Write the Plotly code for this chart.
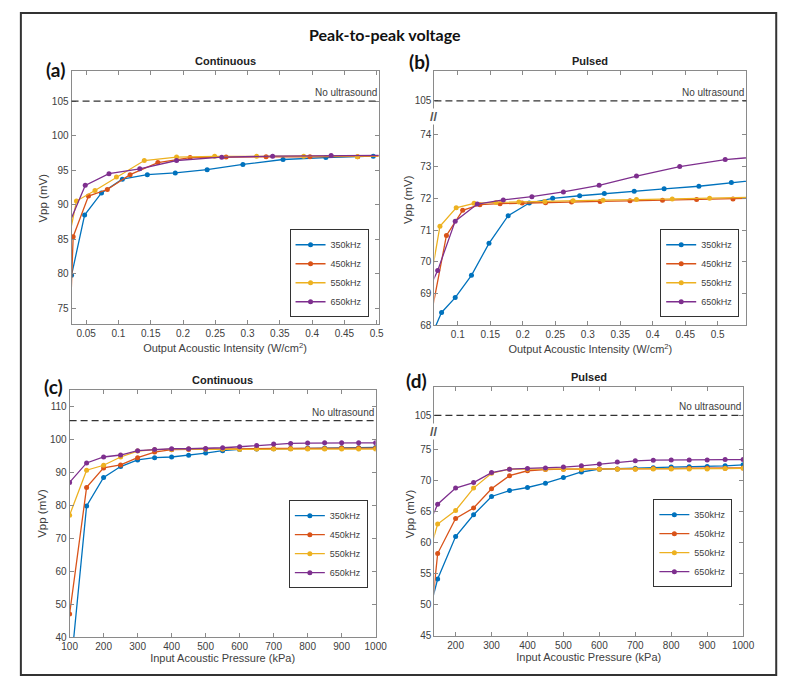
import plotly.graph_objects as go

# ---------------- data ----------------
series_names = ["350kHz", "450kHz", "550kHz", "650kHz"]
colors = ["#0072BD", "#D95319", "#EDB120", "#7E2F8E"]

# (a) Continuous - output acoustic intensity (W/cm^2)
a_x_350 = [0.0273, 0.0475, 0.0737, 0.106, 0.1447, 0.188, 0.2374, 0.2928, 0.355, 0.4213, 0.4948]
a_y_350 = [79.8, 88.5, 91.7, 93.7, 94.35, 94.6, 95.07, 95.83, 96.55, 96.83, 97.03]
a_x_450 = [0.024, 0.0298, 0.0535, 0.0827, 0.118, 0.161, 0.211, 0.2667, 0.3287, 0.3967, 0.4707, 0.553]
a_y_450 = [70.0, 85.37, 91.25, 92.2, 94.35, 96.1, 96.83, 96.9, 96.93, 96.93, 96.93, 97.1]
a_x_550 = [0.022, 0.0349, 0.0636, 0.0968, 0.14, 0.19, 0.249, 0.314, 0.387, 0.47, 0.553]
a_y_550 = [84.6, 90.53, 92.06, 94.0, 96.4, 96.9, 97.0, 97.0, 97.0, 96.95, 97.1]
a_x_650 = [0.02, 0.0485, 0.0853, 0.133, 0.19, 0.26, 0.3388, 0.4295, 0.52]
a_y_650 = [86.5, 92.8, 94.5, 95.2, 96.4, 96.88, 97.03, 97.12, 97.15]

# (b) Pulsed - output acoustic intensity (W/cm^2)
b_x_350 = [0.058, 0.075, 0.096, 0.121, 0.148, 0.1775, 0.21, 0.246, 0.2875, 0.3255, 0.3715, 0.4175, 0.471, 0.521, 0.58]
b_y_350 = [67.6, 68.4, 68.87, 69.57, 70.58, 71.45, 71.85, 72.0, 72.08, 72.15, 72.22, 72.3, 72.38, 72.5, 72.62]
b_x_450 = [0.058, 0.0825, 0.1075, 0.134, 0.165, 0.199, 0.235, 0.275, 0.319, 0.365, 0.415, 0.4675, 0.5235, 0.58]
b_y_450 = [68.2, 70.83, 71.62, 71.8, 71.83, 71.85, 71.86, 71.88, 71.9, 71.92, 71.94, 71.96, 71.98, 72.01]
b_x_550 = [0.058, 0.0725, 0.0975, 0.125, 0.159, 0.194, 0.234, 0.2775, 0.3235, 0.375, 0.43, 0.4875, 0.58]
b_y_550 = [69.4, 71.12, 71.7, 71.84, 71.87, 71.88, 71.9, 71.92, 71.94, 71.96, 71.98, 72.0, 72.04]
b_x_650 = [0.058, 0.069, 0.096, 0.13, 0.17, 0.214, 0.2625, 0.3175, 0.375, 0.4415, 0.5115, 0.58]
b_y_650 = [69.24, 69.72, 71.28, 71.82, 71.95, 72.05, 72.2, 72.41, 72.7, 73.0, 73.22, 73.34]

# (c) Continuous - input acoustic pressure (kPa)
c_x = [100, 150, 200, 250, 300, 350, 400, 450, 500, 550, 600, 650, 700, 750, 800, 850, 900, 950, 1000]
c_y_350 = [27, 79.8, 88.4, 91.7, 93.7, 94.4, 94.6, 95.1, 95.8, 96.5, 96.9, 97.0, 97.1, 97.2, 97.3, 97.3, 97.4, 97.4, 97.5]
c_y_450 = [47.1, 85.4, 91.3, 92.2, 94.4, 96.1, 96.8, 96.9, 97.0, 97.0, 97.1, 97.1, 97.2, 97.2, 97.2, 97.2, 97.3, 97.3, 97.3]
c_y_550 = [77.0, 90.6, 92.1, 94.6, 96.4, 96.8, 96.9, 97.0, 97.0, 97.0, 96.9, 97.0, 97.0, 97.0, 97.0, 97.0, 97.0, 97.0, 97.0]
c_y_650 = [86.9, 92.8, 94.6, 95.2, 96.5, 96.9, 97.1, 97.1, 97.2, 97.4, 97.7, 98.1, 98.5, 98.7, 98.8, 98.9, 98.9, 98.9, 98.9]

# (d) Pulsed - input acoustic pressure (kPa)
d_x = [100, 150, 200, 250, 300, 350, 400, 450, 500, 550, 600, 650, 700, 750, 800, 850, 900, 950, 1000]
d_y_350 = [43, 54.15, 61.0, 64.5, 67.45, 68.4, 68.9, 69.6, 70.5, 71.4, 71.85, 71.9, 72.0, 72.1, 72.2, 72.25, 72.3, 72.4, 72.55]
d_y_450 = [30, 58.25, 63.9, 65.6, 68.7, 70.8, 71.6, 71.8, 71.85, 71.85, 71.9, 71.9, 71.9, 71.95, 71.95, 72.0, 72.0, 72.0, 72.05]
d_y_550 = [53, 63.0, 65.2, 68.8, 71.2, 71.85, 71.85, 71.85, 71.85, 71.85, 71.85, 71.85, 71.85, 71.9, 71.9, 71.9, 71.9, 71.95, 72.0]
d_y_650 = [59.5, 66.2, 68.8, 69.7, 71.3, 71.85, 71.97, 72.05, 72.2, 72.4, 72.7, 73.0, 73.2, 73.3, 73.35, 73.35, 73.35, 73.4, 73.4]

# "No ultrasound" reference levels (mV)
no_us_a = 105.0
no_us_b = 105.0
no_us_c = 105.6
no_us_d = 105.0

# tick labels
a_xticks = [0.05, 0.1, 0.15, 0.2, 0.25, 0.3, 0.35, 0.4, 0.45, 0.5]
a_yticks = [75, 80, 85, 90, 95, 100, 105]
b_xticks = [0.1, 0.15, 0.2, 0.25, 0.3, 0.35, 0.4, 0.45, 0.5]
b_yticks = [68, 69, 70, 71, 72, 73, 74]
c_xticks = [100, 200, 300, 400, 500, 600, 700, 800, 900, 1000]
c_yticks = [40, 50, 60, 70, 80, 90, 100, 110]
d_xticks = [200, 300, 400, 500, 600, 700, 800, 900, 1000]
d_yticks = [45, 50, 55, 60, 65, 70, 75]
break_label = 105

# ---------------- layout helpers ----------------
W, H = 789, 678
# broken-axis placement: where the upper (105 mV) level sits on the lower scale
b_break_pos = 75.07
d_break_pos = 80.53
b_mark = 74.57
d_mark = 78.0


def b_map(v):
    return v - (break_label - b_break_pos) if v >= 100 else v


def d_map(v):
    return v - (break_label - d_break_pos) if v >= 100 else v


def px_dom(a, b, total, flip=False):
    if flip:
        return [1 - b / total, 1 - a / total]
    return [a / total, b / total]


fig = go.Figure()

panels = [
    dict(xs=[a_x_350, a_x_450, a_x_550, a_x_650], ys=[a_y_350, a_y_450, a_y_550, a_y_650], ax="x", ay="y", leg="legend"),
    dict(xs=[b_x_350, b_x_450, b_x_550, b_x_650], ys=[b_y_350, b_y_450, b_y_550, b_y_650], ax="x2", ay="y2", leg="legend2"),
    dict(xs=[c_x] * 4, ys=[c_y_350, c_y_450, c_y_550, c_y_650], ax="x3", ay="y3", leg="legend3"),
    dict(xs=[d_x] * 4, ys=[d_y_350, d_y_450, d_y_550, d_y_650], ax="x4", ay="y4", leg="legend4"),
]

for p in panels:
    for name, col, xv, yv in zip(series_names, colors, p["xs"], p["ys"]):
        fig.add_trace(go.Scatter(
            x=xv, y=yv, name=name, mode="lines+markers",
            line=dict(color=col, width=1.3),
            marker=dict(color=col, size=5),
            xaxis=p["ax"], yaxis=p["ay"], legend=p["leg"], cliponaxis=True,
        ))

FONT = "Liberation Sans, Arial, sans-serif"
tick_font = dict(family=FONT, size=10, color="#404040")
title_font = dict(family=FONT, size=11, color="#404040")
axcol = "#8a8a8a"


def axis(dom, rng, tickvals, ticktext=None, title=None, standoff=4, anchor=None):
    d = dict(domain=dom, range=rng, tickvals=tickvals, showline=True, linecolor=axcol,
             linewidth=1, mirror="ticks", ticks="inside", ticklen=4, tickcolor=axcol,
             showgrid=False, zeroline=False, tickfont=tick_font, anchor=anchor)
    if ticktext is not None:
        d["ticktext"] = ticktext
    if title is not None:
        d["title"] = dict(text=title, font=title_font, standoff=standoff)
    return d


xa_dom = px_dom(57, 372, W)
ya_dom = px_dom(64, 319, H, flip=True)
xb_dom = px_dom(429.3, 749.3, W)
yb_dom = px_dom(64, 320, H, flip=True)
xc_dom = px_dom(55, 369, W)
yc_dom = px_dom(385, 635, H, flip=True)
xd_dom = px_dom(429.3, 746, W)
yd_dom = px_dom(382.7, 634, H, flip=True)

xlab_I = "Output Acoustic Intensity (W/cm<sup>2</sup>)"
xlab_P = "Input Acoustic Pressure (kPa)"
ylab = "Vpp (mV)"

fig.update_layout(
    xaxis=axis(xa_dom, [0.0273, 0.503], a_xticks, [f"{v:g}" for v in a_xticks], xlab_I, 6, "y"),
    yaxis=axis(ya_dom, [72.7, 109.3], a_yticks, None, None, 6, "x"),
    xaxis2=axis(xb_dom, [0.064, 0.544], b_xticks, [f"{v:g}" for v in b_xticks], xlab_I, 6, "y2"),
    yaxis2=axis(yb_dom, [68, 76.0], b_yticks + [b_map(break_label)],
                [str(v) for v in b_yticks] + [str(break_label)], None, 6, "x2"),
    xaxis3=axis(xc_dom, [100, 1000], c_xticks, None, xlab_P, 2, "y3"),
    yaxis3=axis(yc_dom, [40, 115], c_yticks, None, None, 6, "x3"),
    xaxis4=axis(xd_dom, [141, 1000], d_xticks, None, xlab_P, 2, "y4"),
    yaxis4=axis(yd_dom, [44.9, 85.05], d_yticks + [d_map(break_label)],
                [str(v) for v in d_yticks] + [str(break_label)], None, 6, "x4"),
)

leg_common = dict(bgcolor="white", bordercolor="#333", borderwidth=1,
                  font=dict(family=FONT, size=9, color="#404040"),
                  tracegroupgap=0, itemclick=False, itemwidth=30)
fig.update_layout(
    legend=dict(x=361.7 / W, y=1 - 312 / H, xanchor="right", yanchor="bottom", **leg_common),
    legend2=dict(x=742 / W, y=1 - 312 / H, xanchor="right", yanchor="bottom", **leg_common),
    legend3=dict(x=361 / W, y=1 - 541 / H, xanchor="right", yanchor="middle", **leg_common),
    legend4=dict(x=735 / W, y=1 - 540 / H, xanchor="right", yanchor="middle", **leg_common),
)

# dashed "No ultrasound" lines
shapes = []
annos = []
for ax, ay, lvl in [("x", "y", no_us_a), ("x2", "y2", b_map(no_us_b)),
                    ("x3", "y3", no_us_c), ("x4", "y4", d_map(no_us_d))]:
    shapes.append(dict(type="line", xref=f"{ax} domain", x0=0, x1=1, yref=ay, y0=lvl, y1=lvl,
                       line=dict(color="#333", width=1.3, dash="7px,4px")))
    annos.append(dict(text="No ultrasound", xref=f"{ax} domain", x=1, xanchor="right",
                      yref=ay, y=lvl, yanchor="bottom", yshift=1, showarrow=False,
                      font=dict(family=FONT, size=10, color="#404040")))

# axis-break marks
for ax, ay, pos in [("x2", "y2", b_mark), ("x4", "y4", d_mark)]:
    annos.append(dict(text="<b>//</b>", xref=f"{ax} domain", x=0, xanchor="center",
                      yref=ay, y=pos, yanchor="middle", showarrow=False, bgcolor="white",
                      borderpad=0,
                      font=dict(family=FONT, size=13, color="#555")))

# y-axis titles
for xp, yp in [(28, 192), (403, 193), (27, 510), (405, 510)]:
    annos.append(dict(text=ylab, xref="paper", yref="paper", x=xp / W, y=1 - yp / H,
                      xanchor="center", yanchor="middle", textangle=-90, showarrow=False,
                      font=dict(family=FONT, size=11.5, color="#404040")))

# subplot titles
for ax, ay, t in [("x", "y", "Continuous"), ("x2", "y2", "Pulsed"),
                  ("x3", "y3", "Continuous"), ("x4", "y4", "Pulsed")]:
    annos.append(dict(text=f"<b>{t}</b>", xref=f"{ax} domain", x=0.5, xanchor="center",
                      yref=f"{ay} domain", y=1, yanchor="bottom", yshift=2, showarrow=False,
                      font=dict(family=FONT, size=11, color="#222")))

# panel letters
for t, xp, yp in [("(a)", 41, 62), ("(b)", 414, 54), ("(c)", 38, 382), ("(d)", 411, 376)]:
    annos.append(dict(text=f"<b>{t}</b>", xref="paper", yref="paper", x=xp / W, y=1 - yp / H,
                      xanchor="center", yanchor="middle", showarrow=False,
                      font=dict(family="Lato, sans-serif", size=19, color="#111")))

# main title
annos.append(dict(text="<b>Peak-to-peak voltage</b>", xref="paper", yref="paper", x=379 / W, y=1 - 27 / H,
                  xanchor="center", yanchor="middle", showarrow=False,
                  font=dict(family="Lato, sans-serif", size=16, color="#111")))

# outer frame
shapes.append(dict(type="rect", xref="paper", yref="paper", x0=5 / W, x1=780 / W,
                   y0=1 - 673 / H, y1=1 - 5 / H, line=dict(color="#333", width=2)))

fig.update_layout(
    width=W, height=H, margin=dict(l=0, r=0, t=0, b=0),
    paper_bgcolor="white", plot_bgcolor="white",
    shapes=shapes, annotations=annos, showlegend=True,
)

fig.write_html("out.html")
